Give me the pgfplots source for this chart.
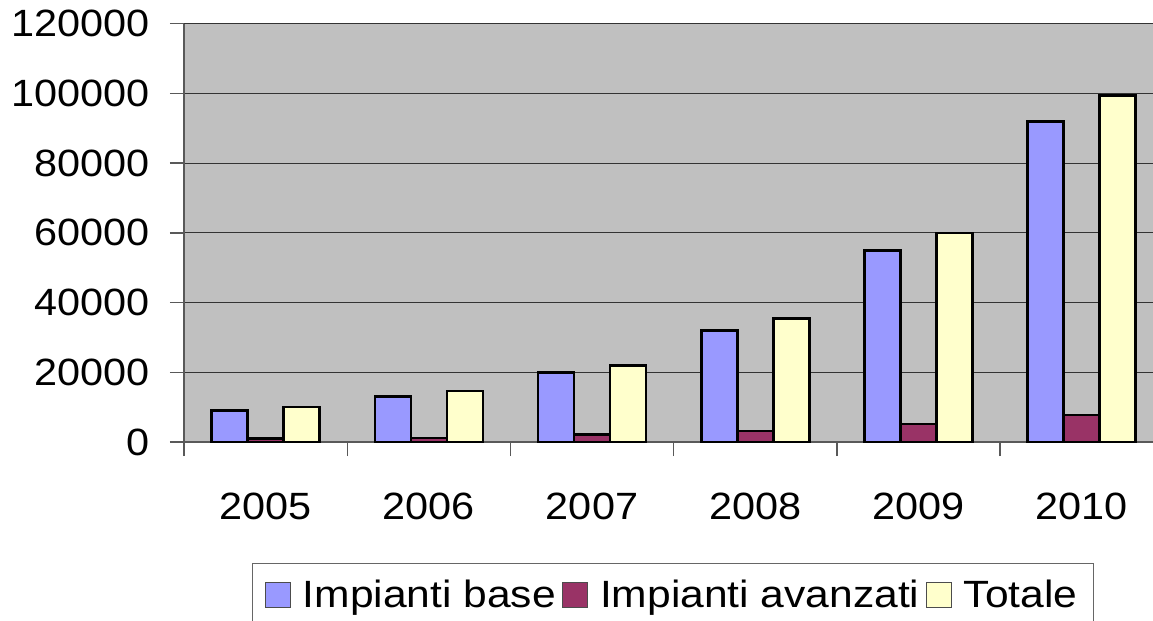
\documentclass[border=0pt]{standalone}
\usepackage{pgfplots}
\pgfplotsset{compat=1.18}
\usepackage{fontspec}
\setmainfont{Liberation Sans}[FakeStretch=1.09]
\newfontfamily\legfont{Liberation Sans}[FakeStretch=1.12]
\definecolor{cbase}{HTML}{9999FF}
\definecolor{cavz}{HTML}{993366}
\definecolor{ctot}{HTML}{FFFFCC}
\definecolor{cbg}{HTML}{C0C0C0}
\begin{document}
\begin{tikzpicture}
\begin{axis}[
  at={(0,0)}, anchor=south west,
  scale only axis, width=484.5pt, height=209.15pt,
  xmin=-0.5, xmax=5.437, ymin=0, ymax=120000,
  axis x line*=bottom, axis y line*=left,
  axis line style={-, draw=black!65, line width=0.7pt},
  axis background/.style={fill=cbg},
  ybar=0pt, bar width=18pt,
  xtick={0,1,2,3,4,5}, xticklabels={2005,2006,2007,2008,2009,2010},
  minor xtick={-0.5,0.5,1.5,2.5,3.5,4.5},
  major x tick style={draw=none},
  minor tick length=7pt, major tick length=7pt,
  tick align=outside,
  tick style={draw=black!65, line width=0.7pt},
  ytick={0,20000,40000,60000,80000,100000,120000},
  scaled y ticks=false,
  /pgf/number format/assume math mode=true,
  yticklabel={\pgfmathprintnumber[fixed,1000 sep={}]{\tick}},
  tick label style={font=\fontsize{19}{22}\selectfont},
  yticklabel style={xshift=-6.5pt},
  xticklabel style={yshift=-15pt},
  ymajorgrids, major grid style={black!80, line width=0.5pt},
  legend columns=3,
  legend style={at={(0.0702,-0.2893)}, anchor=north west, draw=black!60, line width=0.6pt,
    font=\legfont\fontsize{19}{22}\selectfont, inner xsep=6pt, inner ysep=6pt,
    /tikz/every odd column/.append style={column sep=4pt},
    /tikz/every even column/.append style={column sep=1pt}},
  legend image code/.code={\draw[#1,draw=black!70,line width=0.6pt] (0pt,-6.25pt) rectangle (12.5pt,6.25pt);},
]
\addplot[fill=cbase, draw=black, line width=1.3pt] coordinates {(0,9000) (1,13000) (2,20000) (3,32000) (4,55000) (5,92000)};
\addplot[fill=cavz, draw=black, line width=1.3pt] coordinates {(0,1050) (1,1100) (2,2200) (3,3200) (4,5200) (5,7800)};
\addplot[fill=ctot, draw=black, line width=1.3pt] coordinates {(0,10000) (1,14600) (2,22000) (3,35500) (4,60000) (5,99400)};
\legend{Impianti base, Impianti avanzati, Totale}
\end{axis}
\pgfresetboundingbox
\path[use as bounding box] (-92pt,-89.5pt) rectangle (484.5pt,221pt);
\end{tikzpicture}
\end{document}
